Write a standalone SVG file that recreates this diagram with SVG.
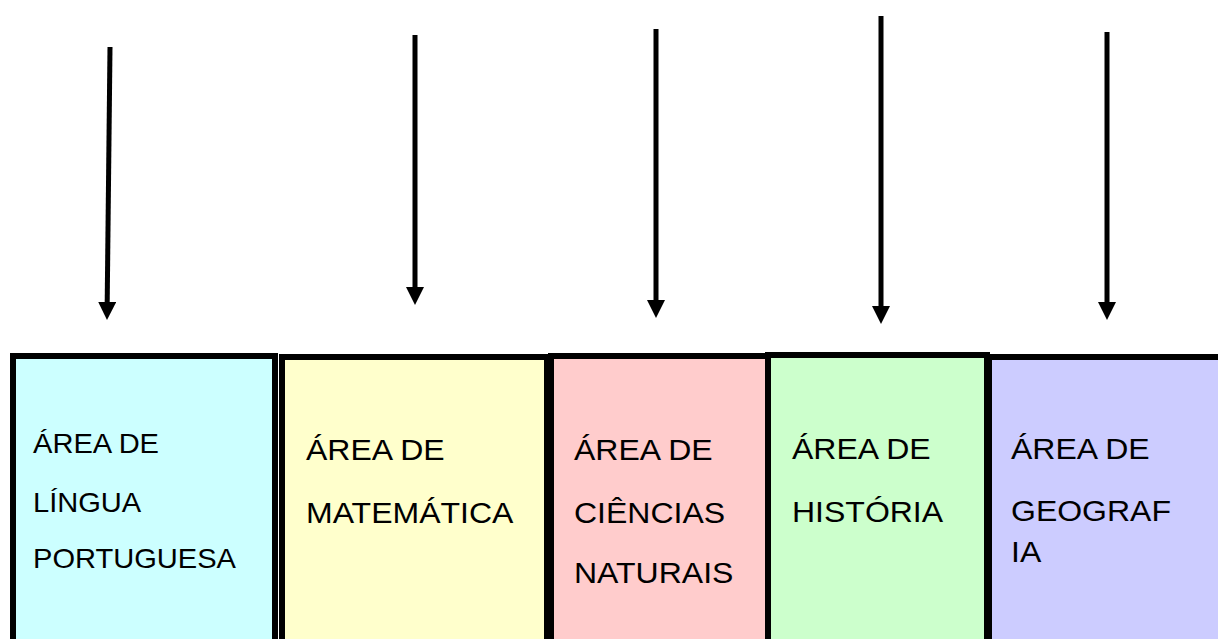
<svg xmlns="http://www.w3.org/2000/svg" width="1218" height="639" viewBox="0 0 1218 639">
<style>
.box{stroke:#000;stroke-width:6}
.t{font-family:"Liberation Sans",Arial,sans-serif;fill:#000;font-size:29.5px}
.s{font-size:26.8px}
.arr{stroke:#000;stroke-width:5;fill:none}
</style>
<defs>
<marker id="ah" markerUnits="userSpaceOnUse" markerWidth="18" markerHeight="18" refX="0" refY="9" orient="auto" viewBox="0 0 18 18">
<path d="M0,0 L18,9 L0,18 Z" fill="#000"/>
</marker>
</defs>
<rect width="1218" height="639" fill="#fff"/>
<g id="connectors">
<line class="arr" x1="110" y1="47" x2="107.2" y2="302" marker-end="url(#ah)"/>
<line class="arr" x1="415" y1="35" x2="415" y2="287" marker-end="url(#ah)"/>
<line class="arr" x1="656" y1="29" x2="656" y2="300" marker-end="url(#ah)"/>
<line class="arr" x1="881" y1="16" x2="881" y2="306" marker-end="url(#ah)"/>
<line class="arr" x1="1107" y1="32" x2="1107" y2="302" marker-end="url(#ah)"/>
</g>
<g id="node1">
<rect class="box" x="13" y="356" width="262" height="300" fill="#CCFFFF"/>
<text class="t s" transform="translate(33,453) scale(1.085,1)">ÁREA DE</text>
<text class="t s" transform="translate(33,512) scale(1.085,1)">LÍNGUA</text>
<text class="t s" transform="translate(33,568) scale(1.085,1)">PORTUGUESA</text>
</g>
<g id="node2">
<rect class="box" x="282" y="357" width="265" height="300" fill="#FFFFCC"/>
<text class="t" transform="translate(306,460) scale(1.085,1)">ÁREA DE</text>
<text class="t" transform="translate(306,523) scale(1.085,1)">MATEMÁTICA</text>
</g>
<g id="node3">
<rect class="box" x="551" y="356" width="217" height="300" fill="#FFCCCC"/>
<text class="t" transform="translate(574,460) scale(1.085,1)">ÁREA DE</text>
<text class="t" transform="translate(574,523) scale(1.085,1)">CIÊNCIAS</text>
<text class="t" transform="translate(574,583) scale(1.085,1)">NATURAIS</text>
</g>
<g id="node4">
<rect class="box" x="768" y="355" width="219" height="300" fill="#CCFFCC"/>
<text class="t" transform="translate(792,459) scale(1.085,1)">ÁREA DE</text>
<text class="t" transform="translate(792,522) scale(1.085,1)">HISTÓRIA</text>
</g>
<g id="node5">
<rect class="box" x="989" y="357" width="240" height="300" fill="#CCCCFF"/>
<text class="t" transform="translate(1011,459) scale(1.085,1)">ÁREA DE</text>
<text class="t" transform="translate(1011,521) scale(1.085,1)">GEOGRAF</text>
<text class="t" transform="translate(1011,562) scale(1.085,1)">IA</text>
</g>
</svg>
